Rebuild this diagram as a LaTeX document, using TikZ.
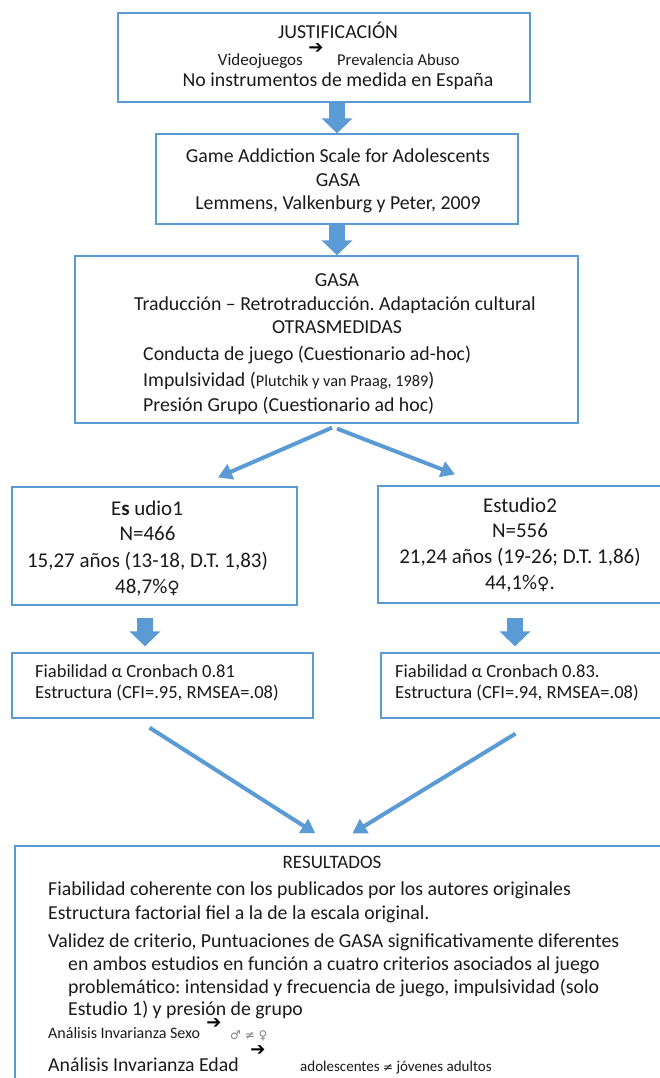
\documentclass[tikz,border=0pt]{standalone}
\usepackage{fontspec}
\setmainfont{Carlito}
\newfontfamily\djf{DejaVu Sans}
\usetikzlibrary{arrows.meta,calc}
\definecolor{bl}{HTML}{5B9BD5}
\definecolor{tx}{HTML}{1A1A1A}
\frenchspacing
\begin{document}
\begin{tikzpicture}[x=1pt,y=-1pt,
  box/.style={draw=bl, line width=1.3pt, inner sep=0pt, fill=none},
  blk/.style={draw=bl, line width=16pt, -{Triangle[length=15pt,width=30pt,fill=bl]}},
  diag/.style={draw=bl, line width=4pt, -{Triangle[length=14pt,width=16pt,fill=bl]}},
  t/.style={inner sep=0pt, text=tx, font=\fontsize{19.8}{22}\selectfont, anchor=base},
  tl/.style={t, anchor=base west},
  te/.style={inner sep=0pt, text=tx, font=\fontsize{21}{24}\selectfont, anchor=base},
  ts/.style={inner sep=0pt, text=tx, font=\fontsize{16}{18}\selectfont, anchor=base west},
  tf/.style={inner sep=0pt, text=tx, font=\fontsize{18.5}{21}\selectfont, anchor=base west},
  ka/.style={inner sep=0pt, text=black, font=\djf\fontsize{18}{18}\selectfont}
]
\useasboundingbox (0,0) rectangle (659,1078);
% boxes
\node[box, minimum width=412pt, minimum height=89pt]  (b1) at (324,57.5) {};
\node[box, minimum width=362pt, minimum height=90pt]  (b2) at (337,179) {};
\node[box, minimum width=503pt, minimum height=167pt] (b3) at (326.5,339.5) {};
\node[box, minimum width=285pt, minimum height=118pt] (e1) at (154.5,546) {};
\node[box, minimum width=284pt, minimum height=117pt] (e2) at (520,544.5) {};
\node[box, minimum width=301pt, minimum height=65pt]  (f1) at (162.5,685.5) {};
\node[box, minimum width=281pt, minimum height=65pt]  (f2) at (521.5,685.5) {};
\node[box, minimum width=685pt, minimum height=254pt] (res) at (357.5,973) {};
% box 1 text
\node[t] (j1) at (338,39) {JUSTIFICACIÓN};
\node[ts, anchor=base east, font=\fontsize{17}{19}\selectfont] (j2) at (303,66) {Videojuegos};
\node[ka] (j3) at (316,49) {➔};
\node[ts, font=\fontsize{16.5}{19}\selectfont] (j4) at (337,66) {Prevalencia Abuso};
\node[t] (j5) at (338,87) {No instrumentos de medida en España};
% box 2 text
\node[t] (g1) at (338,163) {Game Addiction Scale for Adolescents};
\node[t] (g2) at (338,186) {GASA};
\node[t] (g3) at (338,209) {Lemmens, Valkenburg y Peter, 2009};
% box 3 text
\node[t] (h1) at (337,286) {GASA};
\node[t] (h2) at (335,310) {Traducción – Retrotraducción. Adaptación cultural};
\node[t] (h3) at (337,333) {OTRASMEDIDAS};
\node[tl] (h4) at (143,360) {Conducta de juego (Cuestionario ad-hoc)};
\node[tl] (h5) at (143,386) {Impulsividad ({\fontsize{16.3}{18}\selectfont Plutchik y van Praag, 1989})};
\node[tl] (h6) at (143,411) {Presión Grupo (Cuestionario ad hoc)};
% estudio 1
\node[te] (s1) at (147,515) {E\textbf{s} udio1};
\node[te] (s2) at (147.5,540) {N=466};
\node[te] (s3) at (147.5,567) {15,27 años (13-18, D.T. 1,83)};
\node[te] (s4) at (147.5,593) {48,7\%{\djf\fontsize{17}{17}\selectfont ♀}};
% estudio 2
\node[te] (r1) at (520,512) {Estudio2};
\node[te] (r2) at (520,537) {N=556};
\node[te] (r3) at (520,563) {21,24 años (19-26; D.T. 1,86)};
\node[te] (r4) at (520,589) {44,1\%{\djf\fontsize{17}{17}\selectfont ♀}.};
% fiabilidad
\node[tf] (p1) at (35,677) {Fiabilidad α Cronbach 0.81};
\node[tf] (p2) at (35,698) {Estructura (CFI=.95, RMSEA=.08)};
\node[tf] (q1) at (395,677) {Fiabilidad α Cronbach 0.83.};
\node[tf] (q2) at (395,698) {Estructura (CFI=.94, RMSEA=.08)};
% resultados
\node[t, font=\fontsize{19}{21}\selectfont] (x0) at (332,868) {RESULTADOS};
\node[tl] (x1) at (48,895) {Fiabilidad coherente con los publicados por los autores originales};
\node[tl] (x2) at (48,919) {Estructura factorial fiel a la de la escala original.};
\node[tl] (x3) at (48,947) {Validez de criterio, Puntuaciones de GASA significativamente diferentes};
\node[tl] (x4) at (68,970) {en ambos estudios en función a cuatro criterios asociados al juego};
\node[tl] (x5) at (68,993) {problemático: intensidad y frecuencia de juego, impulsividad (solo};
\node[tl] (x6) at (68,1015) {Estudio 1) y presión de grupo};
\node[ts] (y1) at (48,1038) {Análisis Invarianza Sexo};
\node[ka] (y2) at (214,1024) {➔};
\node[inner sep=0pt, text=gray, font=\djf\fontsize{12}{12}\selectfont, anchor=base west] (y3) at (230,1039) {♂ ≠ ♀};
\node[tl] (z1) at (48,1071) {Análisis Invarianza Edad};
\node[ka] (z2) at (258,1051) {➔};
\node[ts, font=\fontsize{15}{17}\selectfont] (z3) at (300,1071) {adolescentes {\djf\fontsize{12}{12}\selectfont ≠} jóvenes adultos};
% connectors
\draw[blk] (b2.north |- b1.south) -- (b2.north);
\draw[blk] (b2.south) -- (b2.south |- b3.north);
\draw[diag] ($(b3.south)+(5.5,4)$) -- ($(e1.north)+(63.5,-9)$);
\draw[diag] ($(b3.south)+(10.5,5)$) -- ($(e2.north)+(-65,-11)$);
\draw[blk] ($(e1.south)+(-9.5,12)$) -- ($(f1.north)+(-17.5,-6)$);
\draw[blk] ($(e2.south)+(-5,14)$) -- ($(f2.north)+(-6.5,-6)$);
\draw[diag] ($(f1.south)+(-13,9)$) -- ($(res.north west)+(301,-12)$);
\draw[diag] ($(f2.south)+(-6,15)$) -- ($(res.north west)+(338,-12)$);
\end{tikzpicture}
\end{document}
